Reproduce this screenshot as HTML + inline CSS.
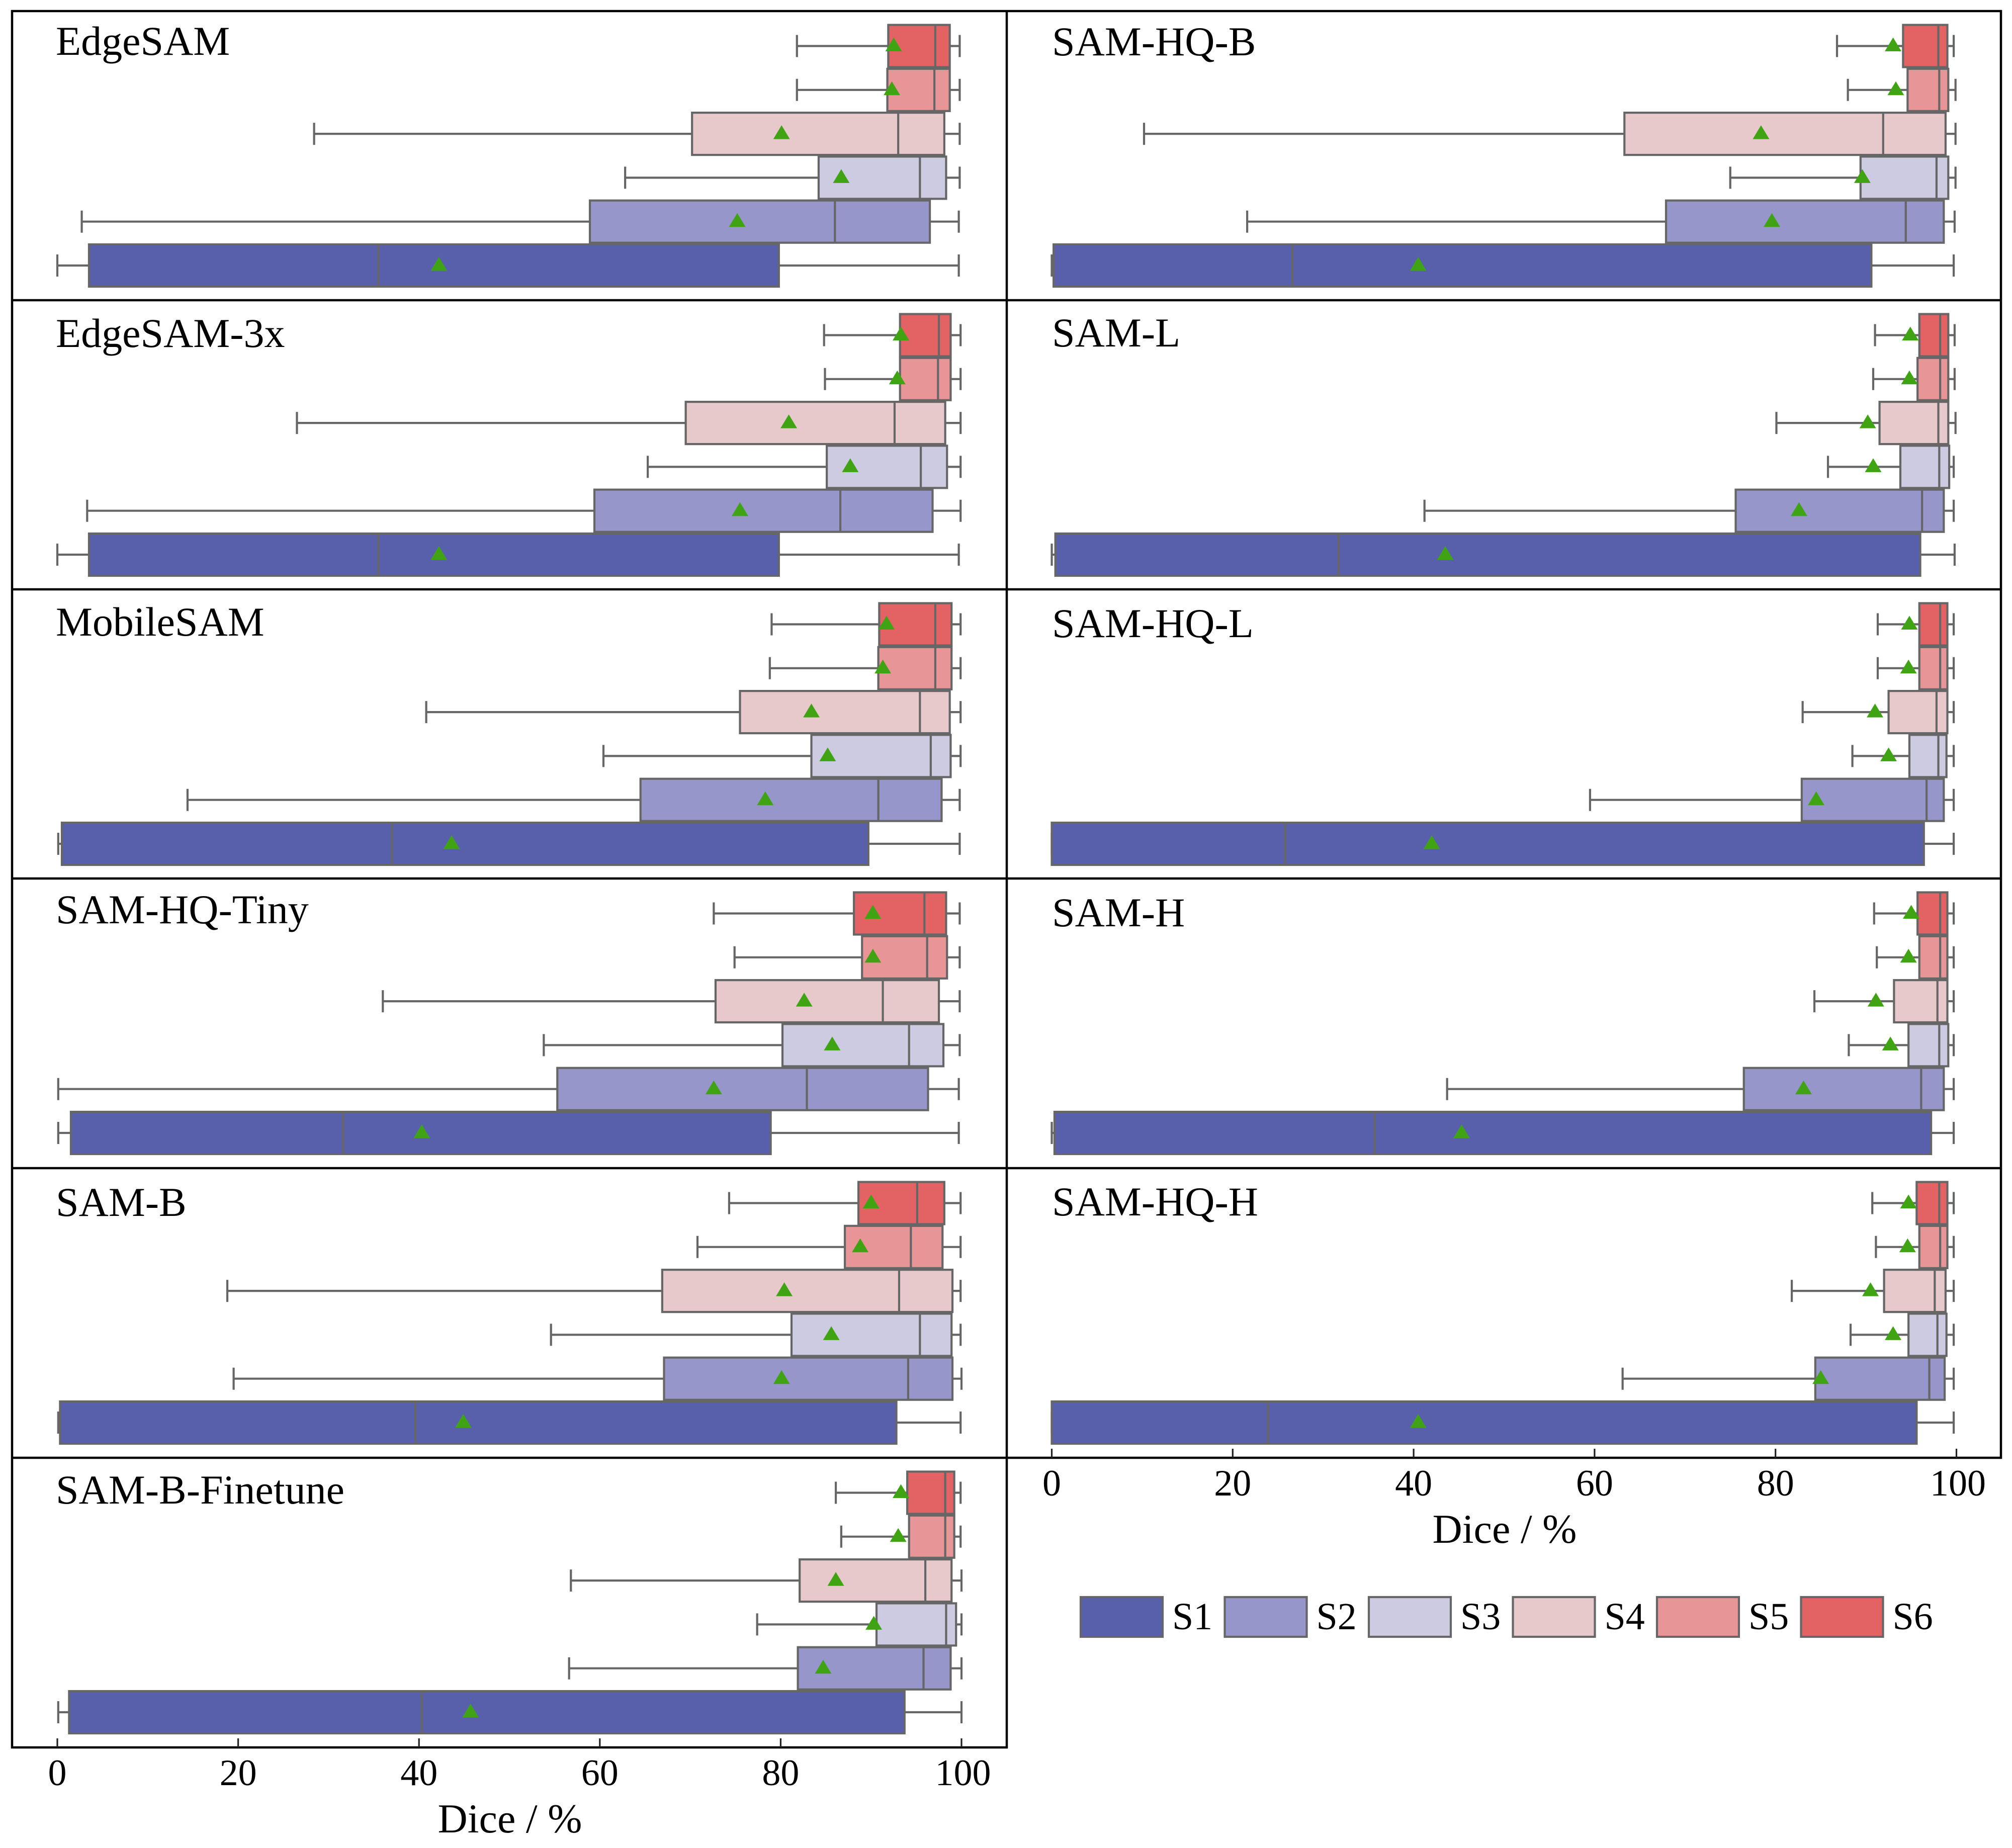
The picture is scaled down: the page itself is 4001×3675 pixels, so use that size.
<!DOCTYPE html>
<html lang="en">
<head>
<meta charset="utf-8">
<title>Dice score box plots per model and subset</title>
<style>
html,body{margin:0;padding:0;background:#fff;}
svg{display:block;}
text{font-family:"Liberation Serif","DejaVu Serif",serif;fill:#000;}
</style>
</head>
<body>
<svg id="chart" xmlns="http://www.w3.org/2000/svg" width="4001" height="3675" viewBox="0 0 4001 3675">
<rect x="0" y="0" width="4001" height="3675" fill="#fff"/>
<g id="marks"></g>
<g id="frames" stroke="#000" fill="none" stroke-width="4.5">
<line x1="24" y1="20" x2="24" y2="3477"/>
<line x1="2002" y1="20" x2="2002" y2="3477"/>
<line x1="3979" y1="20" x2="3979" y2="2901"/>
<line x1="22" y1="22" x2="3981" y2="22"/>
<line x1="22" y1="597" x2="3981" y2="597"/>
<line x1="22" y1="1172" x2="3981" y2="1172"/>
<line x1="22" y1="1747" x2="3981" y2="1747"/>
<line x1="22" y1="2323" x2="3981" y2="2323"/>
<line x1="22" y1="2899" x2="3981" y2="2899"/>
<line x1="22" y1="3475" x2="2004" y2="3475"/>
</g>
<g id="axes"></g>
<g id="legend"></g>
</svg>
<script>
// Each row: [whisker low, Q1, median, Q3, whisker high, mean]; rows run S1 to S6.
const seriesNames = ['S1','S2','S3','S4','S5','S6'];
const tickLabels = [0,20,40,60,80,100];
const edgeSam = [[0,3.5,35.5,79.8,99.7,42.2],[2.7,58.9,86.0,96.5,99.7,75.2],[62.8,84.2,95.4,98.3,99.8,86.7],[28.4,70.2,93.0,98.1,99.8,80.1],[81.8,91.8,97.0,98.7,99.8,92.3],[81.8,91.9,97.1,98.7,99.8,92.5]];
const edgeSam3x = [[0,3.5,35.5,79.8,99.7,42.2],[3.3,59.4,86.6,96.8,99.9,75.5],[65.3,85.1,95.5,98.4,99.9,87.7],[26.5,69.5,92.6,98.2,99.9,80.9],[84.9,93.2,97.4,98.8,99.9,92.9],[84.8,93.2,97.5,98.8,99.9,93.3]];
const mobileSam = [[0.1,0.5,37.0,89.7,99.8,43.6],[14.4,64.5,90.8,97.8,99.8,78.3],[60.4,83.4,96.6,98.8,99.9,85.2],[40.8,75.5,95.4,98.7,99.9,83.4],[78.8,90.8,97.1,98.9,99.9,91.3],[79.0,90.9,97.1,98.9,99.9,91.7]];
const samHqTiny = [[0.1,1.5,31.6,78.9,99.7,40.3],[0.1,55.3,82.9,96.3,99.7,72.6],[53.8,80.2,94.2,98.0,99.8,85.7],[36.0,72.8,91.3,97.5,99.8,82.6],[74.9,89.0,96.2,98.4,99.8,90.2],[72.6,88.1,95.9,98.3,99.8,90.2]];
const samB = [[0.1,0.3,39.6,92.8,99.9,44.9],[19.5,67.1,94.1,99.0,100,80.1],[54.6,81.2,95.4,98.9,99.9,85.6],[18.8,66.9,93.1,99.0,99.9,80.4],[70.8,87.1,94.4,97.9,99.9,88.8],[74.3,88.6,95.1,98.1,99.9,90.0]];
const samBFinetune = [[0.1,1.3,40.3,93.7,100,45.7],[56.6,81.9,95.8,98.8,100,84.7],[77.4,90.6,98.3,99.4,100,90.3],[56.8,82.1,96.0,98.9,100,86.1],[86.7,94.2,98.2,99.2,99.9,93.0],[86.1,94.0,98.2,99.2,99.9,93.3]];
const samHqB = [[0,0.2,26.6,90.6,99.7,40.5],[21.6,67.9,94.4,98.6,99.8,79.6],[75.0,89.4,97.8,99.1,99.9,89.6],[10.2,63.3,91.9,98.8,99.9,78.4],[88.0,94.6,98.1,99.1,99.9,93.3],[86.8,94.1,98.0,99.0,99.7,93.0]];
const samL = [[0,0.4,31.7,96.0,99.8,43.5],[41.2,75.6,96.2,98.6,99.7,82.6],[85.8,93.8,98.1,99.2,99.7,90.8],[80.1,91.5,98.0,99.1,99.9,90.2],[90.8,95.7,98.2,99.1,99.8,94.8],[91.0,95.9,98.2,99.1,99.8,94.9]];
const samHqL = [[0,0,25.8,96.4,99.7,42.0],[59.5,82.9,96.7,98.6,99.7,84.5],[88.5,94.8,98.0,98.9,99.7,92.5],[83.0,92.5,97.8,99.0,99.7,91.0],[91.3,95.9,98.2,99.0,99.7,94.7],[91.3,95.9,98.2,99.0,99.7,94.8]];
const samH = [[0,0.3,35.7,97.2,99.7,45.3],[43.7,76.5,96.1,98.6,99.7,83.1],[88.1,94.7,98.1,99.1,99.7,92.7],[84.3,93.1,97.9,99.0,99.7,91.1],[91.2,95.9,98.2,99.0,99.7,94.7],[90.9,95.7,98.2,99.0,99.7,95.0]];
const samHqH = [[0,0,23.9,95.6,99.7,40.5],[63.1,84.4,97.0,98.7,99.7,85.0],[88.3,94.7,97.9,98.9,99.7,93.0],[81.8,92.0,97.6,98.8,99.7,90.5],[91.1,95.9,98.2,99.0,99.7,94.6],[90.7,95.6,98.1,99.0,99.7,94.7]];
const leftPanelNames = ['EdgeSAM','EdgeSAM-3x','MobileSAM','SAM-HQ-Tiny','SAM-B','SAM-B-Finetune'];
const leftPanelStats = [edgeSam,edgeSam3x,mobileSam,samHqTiny,samB,samBFinetune];
const rightPanelNames = ['SAM-HQ-B','SAM-L','SAM-HQ-L','SAM-H','SAM-HQ-H'];
const rightPanelStats = [samHqB,samL,samHqL,samH,samHqH];

const seriesFills = ['#5860AC','#9696CB','#CCCBE1','#E8C9CB','#E89598','#E36364'];
const panelTops = [22,597,1172,1747,2323,2899];
const leftTitleDrop = [87,93,92,89,95,91];
const rightTitleDrop = [88,92,95,95,94];
const NS = 'http://www.w3.org/2000/svg';
const GREY = '#666666';
const marks = document.getElementById('marks');
const axes = document.getElementById('axes');
const legend = document.getElementById('legend');

function xLeft(v){ return 114 + v * 17.98; }
function xRight(v){ return 2091.5 + v * 17.99; }
function rowY(top, seriesIndex){ return top + 69.5 + (seriesNames.length - 1 - seriesIndex) * 87.3; }
function slug(s){ return s.toLowerCase().replace(/[^a-z0-9]+/g,'-'); }

function make(tag, attrs, parent){
  const el = document.createElementNS(NS, tag);
  for (const k in attrs) el.setAttribute(k, attrs[k]);
  parent.appendChild(el);
  return el;
}

function drawPanel(name, stats, top, titleDrop, xs, titleX){
  const base = slug(name);
  const g = make('g', {}, marks);
  
  
  const title = make('text', {x:titleX, y:top + titleDrop, 'font-size':82}, g);
  
  
  title.textContent = name;
  stats.forEach(function(row, i){
    const wl = row[0], q1 = row[1], med = row[2], q3 = row[3], wh = row[4];
    const cy = rowY(top, i);
    const key = base + '-' + seriesNames[i].toLowerCase();
    const lineStyle = {stroke:GREY, 'stroke-width':4.2, fill:'none'};
    const wLow = make('line', Object.assign({x1:xs(wl), x2:xs(q1), y1:cy, y2:cy}, lineStyle), g);
    
    
    const wHigh = make('line', Object.assign({x1:xs(q3), x2:xs(wh), y1:cy, y2:cy}, lineStyle), g);
    
    
    const capLow = make('line', Object.assign({x1:xs(wl), x2:xs(wl), y1:cy-22, y2:cy+22}, lineStyle), g);
    
    
    const capHigh = make('line', Object.assign({x1:xs(wh), x2:xs(wh), y1:cy-22, y2:cy+22}, lineStyle), g);
    
    
    const box = make('rect', {x:xs(q1), y:cy-42, width:xs(q3)-xs(q1), height:84, fill:seriesFills[i], stroke:GREY, 'stroke-width':4.2}, g);
    
    
    const medLine = make('line', Object.assign({x1:xs(med), x2:xs(med), y1:cy-42, y2:cy+42}, lineStyle), g);
    
    
  });
  stats.forEach(function(row, i){
    const cy = rowY(top, i);
    const mx = xs(row[5]);
    const tri = make('polygon', {points:(mx-16.5)+','+(cy+10.5)+' '+(mx+16.5)+','+(cy+10.5)+' '+mx+','+(cy-17), fill:'#3FA314'}, g);
    
    
  });
}

function drawAxis(xs, axisY, side){
  tickLabels.forEach(function(t){
    const tick = make('line', {x1:xs(t), x2:xs(t), y1:axisY-18, y2:axisY, stroke:'#222', 'stroke-width':3.2}, axes);
    
    
    const label = make('text', {x:xs(t)+(t===100?3:0), y:axisY+75, 'font-size':74, 'text-anchor':'middle'}, axes);
    
    
    label.textContent = t;
  });
  const title = make('text', {x:xs(50)+1, y:axisY+169, 'font-size':82, 'text-anchor':'middle'}, axes);
  
  
  title.textContent = 'Dice / %';
}

leftPanelNames.forEach(function(n, i){
  drawPanel(n, leftPanelStats[i], panelTops[i], leftTitleDrop[i], xLeft, 111);
});
rightPanelNames.forEach(function(n, i){
  drawPanel(n, rightPanelStats[i], panelTops[i], rightTitleDrop[i], xRight, 2092);
});
drawAxis(xLeft, 3475, 'left');
drawAxis(xRight, 2899, 'right');

seriesNames.forEach(function(s, i){
  const x = 2149 + i * 286.5;
  const swatch = make('rect', {x:x, y:3176, width:163, height:79, fill:seriesFills[i], stroke:GREY, 'stroke-width':4.2}, legend);
  
  
  const label = make('text', {x:x+182, y:3240, 'font-size':76}, legend);
  
  
  label.textContent = s;
});
</script>
</body>
</html>
